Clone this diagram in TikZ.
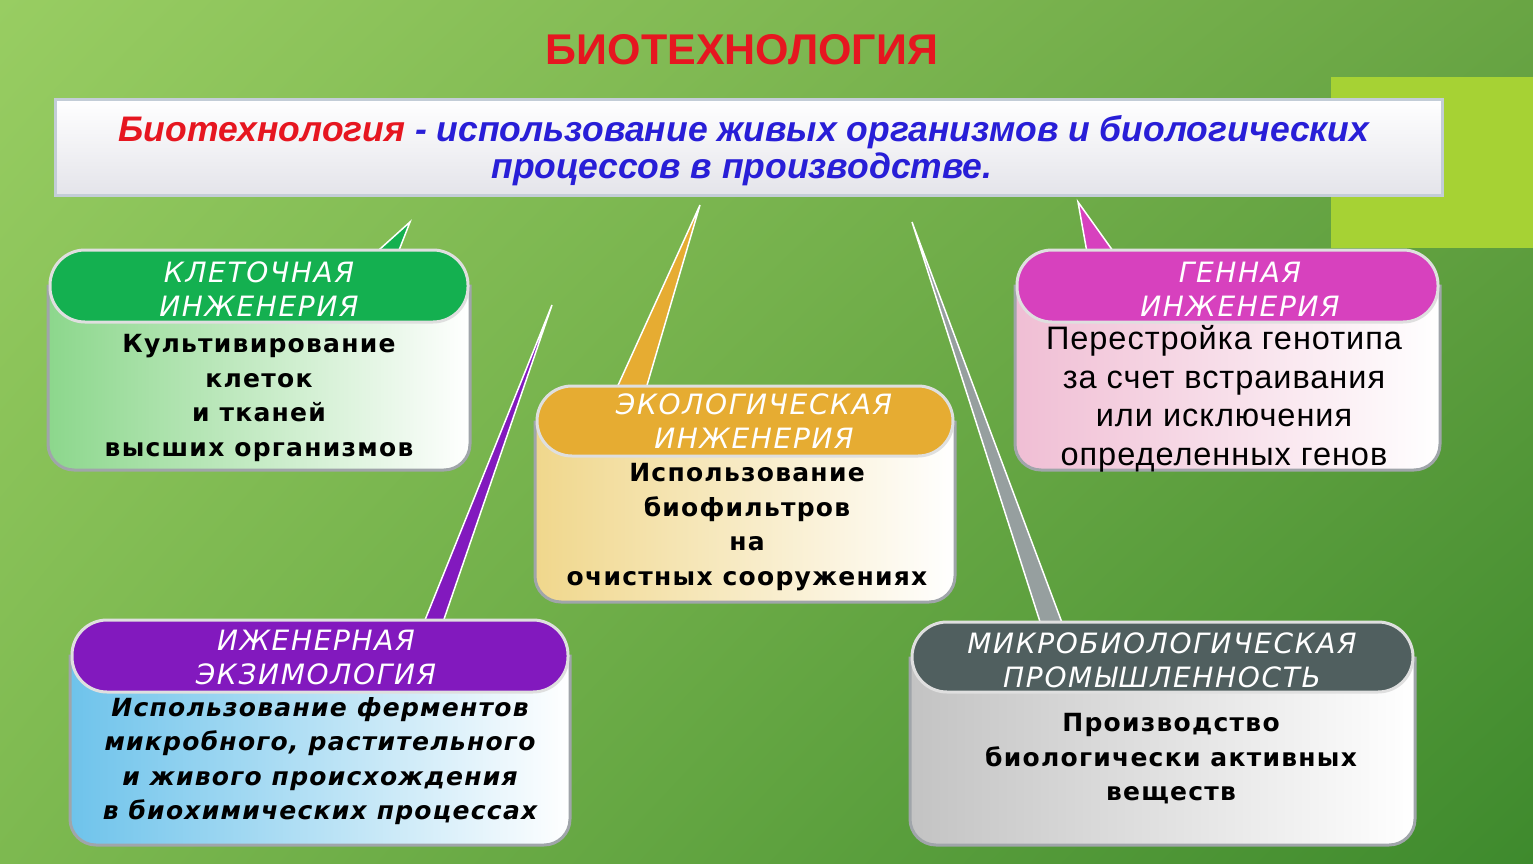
\documentclass[tikz,border=0pt]{standalone}
\usepackage{fontspec}
\setmainfont{DejaVu Sans}
\newfontfamily\titlefont{Liberation Sans}
\newfontfamily\boxfont{Liberation Sans}
\newfontfamily\headfont[LetterSpace=6]{DejaVu Sans}
\newfontfamily\bodyfont[LetterSpace=5]{DejaVu Sans}
\newfontfamily\genfont[LetterSpace=3]{Liberation Sans}
\usetikzlibrary{calc,shadings}

\definecolor{bgUL}{RGB}{152,205,98}
\definecolor{bgUR}{RGB}{105,165,68}
\definecolor{bgLL}{RGB}{125,185,80}
\definecolor{bgLR}{RGB}{62,138,45}
\definecolor{lime}{RGB}{166,210,52}
\definecolor{titlered}{RGB}{230,22,32}
\definecolor{boxblue}{RGB}{40,30,215}
\definecolor{boxgray}{RGB}{228,228,234}
\definecolor{boxedge}{RGB}{195,205,215}
\definecolor{cylgray}{RGB}{160,165,170}
\definecolor{topgreen}{RGB}{20,176,80}
\definecolor{bodygreen}{RGB}{140,215,140}
\definecolor{topmag}{RGB}{215,65,190}
\definecolor{bodypink}{RGB}{240,190,212}
\definecolor{topgold}{RGB}{230,172,50}
\definecolor{bodyyel}{RGB}{240,215,140}
\definecolor{toppurp}{RGB}{130,25,190}
\definecolor{bodyblue}{RGB}{110,195,235}
\definecolor{topslate}{RGB}{80,95,95}
\definecolor{bodygray}{RGB}{195,195,195}

\tikzset{
  hdr/.style={text=white, font=\headfont\itshape\fontsize{28}{34}\selectfont, align=center, inner sep=0},
  bodytxt/.style={text=black, font=\bodyfont\bfseries\fontsize{25}{34.5}\selectfont, align=center, inner sep=0},
  bodyit/.style={text=black, font=\bodyfont\bfseries\itshape\fontsize{25}{34.5}\selectfont, align=center, inner sep=0},
  gentxt/.style={text=black, font=\genfont\fontsize{32.5}{38.5}\selectfont, align=center, inner sep=0},
  deftxt/.style={font=\boxfont\bfseries\itshape\fontsize{35.5}{40}\selectfont, text=boxblue, anchor=base, inner sep=0},
  cylbody/.style={draw=cylgray, line width=3},
  cyltop/.style={draw=white!75!gray, line width=3, rounded corners=35},
  tail/.style={draw=white, line width=1.5},
}

% #1 x1, #2 ytop, #3 x2, #4 ybot, #5 top height, #6 top colour, #7 body colour
\newcommand\drawcyl[7]{%
  \shadedraw[cylbody, left color=#7, right color=white]
    (#1,#2+36) [rounded corners=26] -- (#1,#4) -- (#3,#4) [sharp corners] -- (#3,#2+36) -- cycle;
  \filldraw[cyltop, fill=#6] (#1+2,#2) rectangle (#3-2,#2+#5);
}

\begin{document}
\begin{tikzpicture}[x=1pt, y=-1pt]
\useasboundingbox (0,0) rectangle (1533,864);
% background
\shade[upper left=bgUL, upper right=bgUR, lower left=bgLL, lower right=bgLR] (0,0) rectangle (1533,864);
\fill[lime] (1331,77) rectangle (1533,248);

% title
\node[font=\titlefont\bfseries\fontsize{43}{50}\selectfont, text=titlered, inner sep=0] (title) at (742,50) {БИОТЕХНОЛОГИЯ};

% definition box
\node[draw=boxedge, line width=3, top color=white, bottom color=boxgray, minimum width=1387, minimum height=95, inner sep=0] (tb) at (748.5,147.5) {};
\node[deftxt] (def1) at (744,142)
  {\textcolor{titlered}{Биотехнология} - использование живых организмов и биологических};
\node[deftxt] (def2) at (742,178)
  {процессов в производстве.};

% connector tips and bases
\coordinate (t1) at (410,222); \coordinate (b1l) at (370,258); \coordinate (b1r) at (396,258);
\coordinate (t2) at (1078,202); \coordinate (b2l) at (1088,258); \coordinate (b2r) at (1118,258);
\coordinate (t3) at (700,205); \coordinate (b3l) at (615,392); \coordinate (b3r) at (645,392);
\coordinate (t4) at (552,305); \coordinate (b4l) at (423,625); \coordinate (b4r) at (442,625);
\coordinate (t5) at (912,222); \coordinate (b5l) at (1042,628); \coordinate (b5r) at (1064,628);

\filldraw[tail, fill=topgreen] (t1) -- (b1l) -- (b1r) -- cycle;
\filldraw[tail, fill=topmag] (t2) -- (b2l) -- (b2r) -- cycle;
\filldraw[tail, fill=topgold] (t3) -- (b3l) -- (b3r) -- cycle;
\filldraw[tail, fill=toppurp] (t4) -- (b4l) -- (b4r) -- cycle;
\filldraw[tail, fill=topslate!60!white] (t5) -- (b5l) -- (b5r) -- cycle;

% cylinders
\drawcyl{48}{250}{470}{470}{72}{topgreen}{bodygreen}
\drawcyl{1015}{250}{1440}{470}{72}{topmag}{bodypink}
\drawcyl{535}{386}{955}{602}{70}{topgold}{bodyyel}
\drawcyl{70}{620}{570}{845}{72}{toppurp}{bodyblue}
\drawcyl{910}{622}{1415}{845}{70}{topslate}{bodygray}

% headers
\node[hdr] (h1) at (259,289) {КЛЕТОЧНАЯ\\ИНЖЕНЕРИЯ};
\node[hdr] (h2) at (1240,289) {ГЕННАЯ\\ИНЖЕНЕРИЯ};
\node[hdr] (h3) at (754,421) {ЭКОЛОГИЧЕСКАЯ\\ИНЖЕНЕРИЯ};
\node[hdr] (h4) at (316,657) {ИЖЕНЕРНАЯ\\ЭКЗИМОЛОГИЯ};
\node[hdr] (h5) at (1162,660) {МИКРОБИОЛОГИЧЕСКАЯ\\ПРОМЫШЛЕННОСТЬ};

% bodies
\node[bodytxt] (c1) at (259,398) {Культивирование\\клеток\\и тканей\\высших организмов};
\node[gentxt] (c2) at (1224,399) {Перестройка генотипа\\за счет встраивания\\или исключения\\определенных генов};
\node[bodytxt] (c3) at (747,527) {Использование\\биофильтров\\на\\очистных сооружениях};
\node[bodyit] (c4) at (320,761) {Использование ферментов\\микробного, растительного\\и живого происхождения\\в биохимических процессах};
\node[bodytxt] (c5) at (1171,759) {Производство\\биологически активных\\веществ};
\end{tikzpicture}
\end{document}
